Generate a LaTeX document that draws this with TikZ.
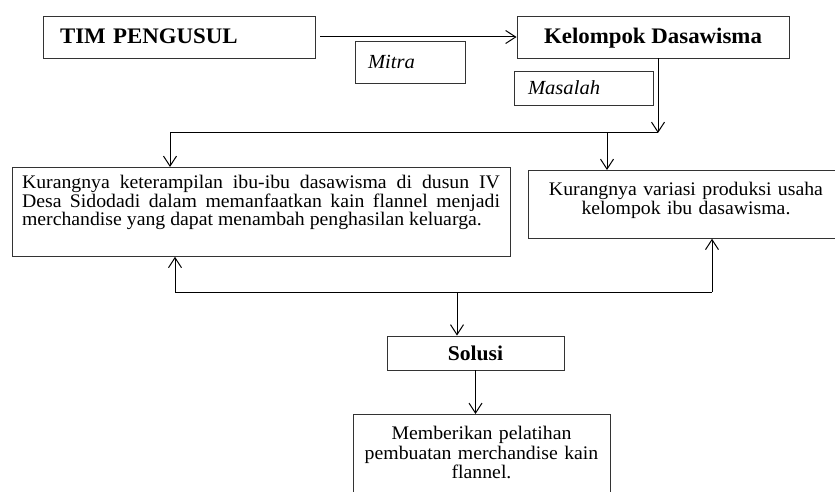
\documentclass[tikz,border=0pt]{standalone}
\usepackage{fontspec}
\setmainfont{Liberation Serif}[FakeStretch=1.03]
\usetikzlibrary{arrows.meta}
\newcommand{\topstrut}[1]{\rule{0pt}{#1}}
\newcommand{\botstrut}[1]{\rule[-#1]{0pt}{#1}}
\begin{document}
\begin{tikzpicture}[x=1pt,y=-1pt,
  box/.style={draw=black!80, line width=0.9pt, inner sep=0pt},
  arr/.style={-{Straight Barb[length=10pt,width=13pt]}, line width=1pt},
  ln/.style={line width=1pt},
  title/.style={font=\bfseries\fontsize{22.2}{26}\selectfont, text height=15pt, text depth=1pt},
  lab/.style={font=\itshape\fontsize{20}{24}\selectfont, text height=13.5pt, text depth=0pt, align=left},
  body/.style={font=\fontsize{19.2}{19}\selectfont}]
\useasboundingbox (0,0) rectangle (835,492);
\clip (0,0) rectangle (835,492);

\node[box, title, minimum width=272pt, minimum height=42pt, text width=238pt, align=left, inner xsep=17pt] (tim) at (179,37) {TIM PENGUSUL};
\node[box, title, minimum width=272pt, minimum height=42pt] (kel) at (653,37) {Kelompok Dasawisma};
\node[box, lab, minimum width=110pt, minimum height=42pt, text width=84pt, inner xsep=13pt] (mitra) at (410,62) {Mitra};
\node[box, lab, minimum width=139pt, minimum height=34pt, text width=111pt, inner xsep=14pt] (masalah) at (583.5,88) {Masalah};

\node[box, anchor=north, text width=478pt, inner xsep=10pt, inner ysep=8pt, align=justify, font=\fontsize{19.2}{16.5}\selectfont] (p1) at (261,167)
 {\noindent\topstrut{12.5pt}Kurangnya keterampilan ibu-ibu dasawisma di dusun IV\linebreak Desa Sidodadi dalam memanfaatkan kain flannel menjadi\linebreak merchandise yang dapat menambah penghasilan keluarga.\botstrut{22.5pt}};
\node[box, body, anchor=north, text width=296pt, inner xsep=10pt, inner ysep=12pt, align=center] (p2) at (686,170)
 {\topstrut{12.5pt}Kurangnya variasi produksi usaha\\kelompok ibu dasawisma.\botstrut{11.5pt}};
\node[box, minimum width=177pt, minimum height=34pt, font=\bfseries\fontsize{21}{24}\selectfont, text height=14pt, text depth=0pt] (sol) at (475.5,353) {Solusi};
\node[box, anchor=north, text width=237pt, inner xsep=10pt, inner ysep=12pt, align=center, font=\fontsize{19.2}{19.5}\selectfont] (p3) at (481.5,414)
 {\topstrut{12.5pt}Memberikan pelatihan\\pembuatan merchandise kain\\flannel.\botstrut{30pt}};

\draw[arr, shorten <=5pt] (tim.east) -- (kel.west);

\coordinate (jt) at (658,133);
\coordinate (jl) at (170,133);
\coordinate (jm) at (607,133);
\draw[arr] (jt |- kel.south) -- (jt);
\draw[ln] (jt) -- (jl);
\draw[arr] (jl) -- (jl |- p1.north);
\draw[arr] (jm) -- (jm |- p2.north);

\coordinate (bl) at (175,292);
\coordinate (br) at (712,292);
\coordinate (bm) at (457,292);
\draw[ln] (bl) -- (br);
\draw[arr] (bl) -- (bl |- p1.south);
\draw[arr] (br) -- (br |- p2.south);
\draw[arr] (bm) -- (bm |- sol.north);
\draw[arr] (sol.south) -- (sol.south |- p3.north);
\end{tikzpicture}
\end{document}
